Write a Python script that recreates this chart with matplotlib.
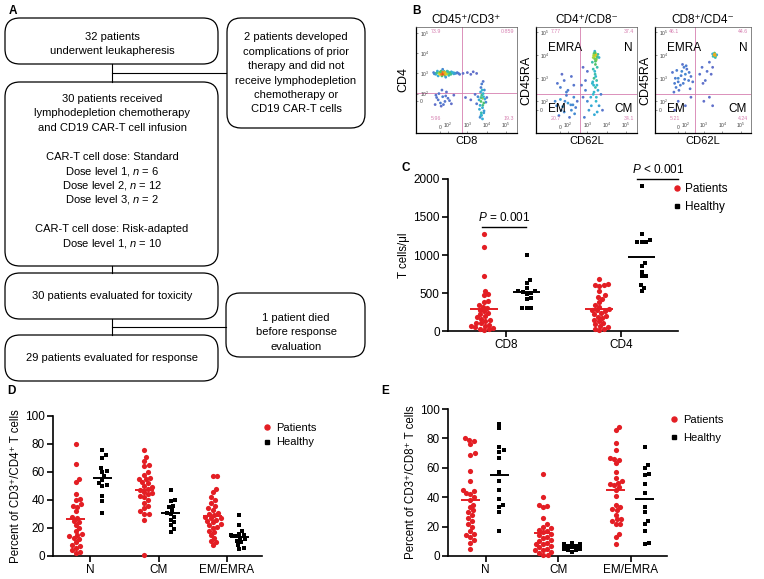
import numpy as np
import matplotlib
matplotlib.use('Agg')
import matplotlib.pyplot as plt
from matplotlib.patches import FancyBboxPatch
from matplotlib.lines import Line2D
from matplotlib.colors import LinearSegmentedColormap
from matplotlib.ticker import NullLocator

plt.rcParams['font.family'] = ['Liberation Sans', 'DejaVu Sans']
plt.rcParams['mathtext.fontset'] = 'custom'
plt.rcParams['mathtext.rm'] = 'Liberation Sans'
plt.rcParams['mathtext.it'] = 'Liberation Sans:italic'

# ---------------- data ----------------
# panel C: T cells per ul
c_groups = ['CD8', 'CD4']
c_patients = [
    [1280, 1100, 730, 530, 490, 470, 400, 380, 340, 320, 300, 280, 260, 240, 220,
     200, 180, 160, 150, 130, 110, 100, 80, 70, 60, 50, 40, 30, 20, 10],
    [680, 620, 610, 600, 590, 520, 470, 450, 420, 380, 340, 320, 290, 280, 270,
     260, 240, 220, 200, 190, 170, 150, 130, 110, 90, 70, 50, 30, 20, 10],
]
c_healthy = [
    [1000, 670, 630, 560, 530, 520, 510, 500, 490, 430, 420, 300, 300, 300],
    [1910, 1280, 1200, 1170, 1170, 1170, 890, 850, 780, 730, 720, 610, 570, 520],
]

# panel D: % of CD3+/CD4+ T cells
subsets = ['N', 'CM', 'EM/EMRA']
d_patients = [
    [80, 66, 55, 53, 44, 41, 40, 37, 36, 35, 32, 28, 27, 25, 24, 22, 20, 18, 16, 15,
     14, 13, 12, 10, 8, 7, 6, 4, 3, 2],
    [76, 71, 68, 65, 64, 60, 58, 56, 55, 55, 53, 52, 50, 49, 48, 47, 46, 45, 44, 43,
     42, 40, 38, 36, 34, 32, 30, 30, 26, 1],
    [57, 57, 48, 46, 42, 40, 38, 36, 34, 33, 31, 30, 29, 28, 27, 27, 26, 25, 24, 23,
     22, 21, 20, 18, 17, 15, 13, 11, 10, 8],
]
d_healthy = [
    [76, 72, 70, 63, 61, 60, 57, 54, 52, 51, 50, 43, 39, 31],
    [47, 40, 39, 36, 35, 33, 31, 30, 28, 26, 24, 22, 19, 17],
    [29, 22, 18, 16, 15, 15, 14, 13, 12, 11, 10, 8, 6, 5],
]

# panel E: % of CD3+/CD8+ T cells
e_patients = [
    [80, 79, 78, 76, 70, 69, 58, 51, 45, 44, 43, 42, 40, 38, 35, 33, 31, 30, 28, 26,
     24, 22, 20, 17, 15, 14, 13, 11, 9, 5],
    [56, 40, 35, 34, 33, 26, 22, 20, 19, 18, 17, 16, 15, 14, 13, 12, 11, 10, 9, 8,
     8, 7, 6, 5, 4, 4, 3, 2, 1, 0.5],
    [88, 86, 77, 72, 67, 66, 65, 63, 57, 53, 51, 50, 49, 48, 47, 45, 41, 35, 33, 32,
     31, 28, 25, 25, 24, 22, 22, 15, 13, 8],
]
e_healthy = [
    [90, 87, 74, 72, 71, 67, 57, 51, 45, 39, 35, 33, 30, 17],
    [9, 8, 8, 7, 7, 6, 6, 6, 5, 5, 5, 4, 4, 3],
    [74, 62, 60, 56, 55, 49, 43, 33, 30, 24, 22, 17, 9, 8],
]

# panel B: flow cytometry events (x, y, relative density)
b1_cd8 = [-60, -20, 0, 20, 40, 60, 80, 100, 130, 160, 200, 250, -40, 10, 50, 90, -30, 20, 60, 110,
          150, 300, -90, 30, 70, 400, 600, 1000, 1500,
          -70, -50, -10, 5, 15, 25, 35, 45, 55, 70, 85, 95, 120, 140, 180, 220, -80, 0, 100, 350,
          -50, 0, 30, 60, 100, -20, 150, 200, 10, 80, -70, -30, 40, 120, 70, -60, 20,
          4000, 5000, 6000, 7000, 5500, 6500, 8000, 4500, 3500, 9000, 6000, 7500, 3000, 2500, 5000,
          10000, 1500, 800, 6500, 5500, 3000, 2000, 5000, 7000, 4500,
          4200, 5200, 6200, 5800, 6800, 4800, 5400, 6000, 7200, 5000]
b1_cd4 = [900, 1100, 1000, 950, 1050, 1000, 1100, 950, 1000, 1050, 950, 1000, 1300, 1300, 1250, 1300, 750, 750, 800, 800,
          1200, 1100, 1100, 1600, 650, 900, 1000, 1100, 900,
          1000, 1050, 900, 1100, 880, 1150, 920, 1000, 1120, 900, 1000, 1050, 1100, 900, 1100, 1050, 950, 1200, 1200, 1000,
          50, -20, 60, 0, 40, 100, -30, 80, -60, 120, -40, 20, -40, 10, 70, 80, 150,
          20, 0, 40, -20, 80, 100, 30, -50, 60, -10, -80, 150, -30, 90, 200,
          50, 20, 50, 400, 300, 1000, 1200, -200, -150, -250,
          -100, -150, -50, 150, 60, 120, -200, -300, -120, 50]
b1_dens = [.35, .6, .9, 1.0, .95, .85, .7, .6, .5, .4, .3, .2, .3, .5, .5, .4, .3, .5, .5, .4,
           .3, .15, .15, .2, .25, .1, .05, .05, .05,
           .3, .45, .7, .85, .9, .9, 1, .95, .8, .75, .7, .6, .5, .45, .35, .25, .2, .5, .4, .12,
           .1, .15, .15, .1, .1, .1, .05, .05, .05, .05, .05, .1, .1, .1, .1, .1, .1,
           .3, .5, .6, .5, .45, .35, .3, .3, .2, .2, .3, .2, .1, .08, .15,
           .1, .05, .05, .1, .15, .05, .05, .3, .25, .2,
           .3, .4, .45, .35, .35, .3, .35, .3, .25, .45]

b2_cd62l = [2000, 2500, 3000, 2200, 2800, 3500, 1800, 2600, 3200, 2400, 4000, 2000,
            2300, 2700, 2900, 2100, 2500, 3300, 2600, 2400,
            2500, 2200, 3000, 1800, 2600, 3500, 2000, 1500, 2800, 4000, 1200, 2300, 3200, 1000, 5000,
            800, 6000, 700, 1600, 2100, 2400, 2700, 1900, 3100, 2200, 2900,
            -50, 0, 50, 100, 150, 200, 250, -20, 80, 300, 120, 30, 10, 60, 140, 220, -70, 180,
            0, 50, 100, -40, 150, 200, 80, 20,
            600, 1000, 800, 500, 600]
b2_cd45ra = [8000, 10000, 9000, 12000, 6000, 11000, 5000, 4000, 3000, 15000, 8000, 2500,
             9000, 11000, 7000, 10000, 13000, 8500, 5500, 7000,
             1500, 1000, 800, 600, 400, 300, 200, 150, 100, 50, 0, -50, -20, 100, 200,
             300, 0, -80, 50, 500, 2000, 1200, 700, 500, 250, 150,
             50, 120, -20, 80, 0, 150, 30, -60, 180, 100, -80, 40, 0, 100, 60, -40, 100, 60,
             400, 800, 300, 600, 1200, 500, 250, 1500,
             3000, 2000, 800, 500, 150]
b2_dens = [.6, .8, .7, .5, .6, .4, .4, .5, .4, .3, .3, .4,
           .7, .75, .55, .6, .5, .45, .5, .55,
           .4, .45, .4, .35, .4, .3, .35, .3, .35, .25, .25, .3, .3, .2, .15,
           .15, .1, .15, .3, .35, .35, .35, .35, .35, .35, .35,
           .2, .25, .2, .25, .2, .2, .15, .15, .15, .1, .1, .25, .2, .2, .2, .2, .2, .2,
           .15, .1, .15, .1, .08, .1, .15, .05,
           .05, .08, .1, .1, .1]

b3_cd62l = [3500, 4000, 4500, 3800, 3200, 4200, 5000, 3000, 3600, 4100, 3900,
            0, 50, -50, 100, 150, 80, -30, 200, 30, 120, -80, 250, 60, 10, 180, -60,
            40, -20, 90, 160, 70, 0, 110, -40,
            800, 1500, 2000, 1200, 2500, 600, 900, 3000,
            0, 100, -50, 200, 1000, 3000, 2000]
b3_cd45ra = [10000, 11000, 9500, 12500, 9000, 8000, 10500, 11500, 10500, 9800, 11200,
             1000, 2000, 600, 1500, 800, 3000, 400, 1200, 500, 2500, 1800, 700, 4000, 300, 350, 250,
             1300, 2200, 900, 1800, 600, 700, 3500, 1000,
             3000, 2000, 5000, 800, 1500, 1500, 600, 3000,
             100, 50, 0, 150, 100, 50, 150]
b3_dens = [.7, .8, .6, .5, .4, .4, .3, .3, .8, .8, .8,
           .2, .2, .15, .2, .15, .15, .15, .1, .15, .1, .1, .1, .08, .1, .1, .1,
           .15, .15, .15, .15, .15, .15, .15, .15,
           .08, .08, .08, .08, .05, .08, .05, .05,
           .08, .08, .05, .05, .05, .05, .05]

# ---------------- figure ----------------
W, H = 764, 579
fig = plt.figure(figsize=(W / 100, H / 100), dpi=100)
red = '#e31e24'
pink = '#d67fb0'


def rect(x0, y0, x1, y1):
    return [x0 / W, 1 - y1 / H, (x1 - x0) / W, (y1 - y0) / H]


# overlay in pixel coordinates for panel A and panel letters
ov = fig.add_axes([0, 0, 1, 1])
ov.set_xlim(0, W)
ov.set_ylim(H, 0)
ov.axis('off')

for lab, x, y in [('A', 9, 11), ('B', 412, 11), ('C', 402, 168), ('D', 7, 391), ('E', 381, 391)]:
    ov.text(x, y, lab, fontsize=8.5, fontweight='bold', ha='left', va='center')


def rbox(x0, y0, x1, y1, r, lines, y_first, cx, step=14.4):
    ov.add_patch(FancyBboxPatch((x0 + r, y0 + r), x1 - x0 - 2 * r, y1 - y0 - 2 * r,
                                boxstyle=f'round,pad={r}', fc='white', ec='black', lw=0.9))
    for i, t in enumerate(lines):
        ov.text(cx, y_first + i * step, t, fontsize=8, ha='center', va='center')


rbox(5, 18, 218, 64, 15, ['32 patients', 'underwent leukapheresis'], 37, 112)
rbox(227, 18, 365, 128, 14, ['2 patients developed', 'complications of prior', 'therapy and did not',
                              'receive lymphodepletion', 'chemotherapy or', 'CD19 CAR-T cells'], 37.3, 296)
rbox(5, 82, 218, 266, 15, ['30 patients received', 'lymphodepletion chemotherapy',
                           'and CD19 CAR-T cell infusion', '', 'CAR-T cell dose: Standard',
                           'Dose level 1, $n$ = 6', 'Dose level 2, $n$ = 12', 'Dose level 3, $n$ = 2', '',
                           'CAR-T cell dose: Risk-adapted', 'Dose level 1, $n$ = 10'], 99, 112)
rbox(5, 273, 218, 319, 15, ['30 patients evaluated for toxicity'], 296, 112)
rbox(226, 293, 365, 357, 14, ['1 patient died', 'before response', 'evaluation'], 318, 296)
rbox(5, 335, 218, 381, 15, ['29 patients evaluated for response'], 358, 112)
for xs, ys in [([112, 112], [64, 82]), ([112, 226], [73, 73]), ([112, 112], [266, 273]),
               ([112, 112], [319, 335]), ([112, 226], [327, 327])]:
    ov.plot(xs, ys, color='black', lw=0.8)

# ---------------- panel B ----------------
flow_cmap = LinearSegmentedColormap.from_list(
    'flow', ['#6a6ac8', '#4a7fd0', '#2fb8d8', '#4cc46a', '#d8e020', '#f0a020', '#e85020'])
tick_vals = [0, 1e2, 1e3, 1e4, 1e5]
tick_labs = ['0', '$10^2$', '$10^3$', '$10^4$', '$10^5$']


def flow(r, xs, ys, ds, xg, yg, ylim, nums, title, xlab, ylab, ylab_x, quads):
    ax = fig.add_axes(rect(*r))
    ax.set_xscale('symlog', linthresh=100, linscale=0.35)
    ax.set_yscale('symlog', linthresh=100, linscale=0.35)
    ax.scatter(xs, ys, c=ds, cmap=flow_cmap, vmin=0, vmax=1, s=4, lw=0, zorder=2)
    ax.axvline(xg, color=pink, lw=0.6, zorder=1)
    ax.axhline(yg, color=pink, lw=0.6, zorder=1)
    ax.set_xlim(-740, 3.6e5)
    ax.set_ylim(*ylim)
    ax.set_xticks(tick_vals)
    ax.set_xticklabels(tick_labs)
    ax.set_yticks(tick_vals)
    ax.set_yticklabels(tick_labs)
    ax.xaxis.set_minor_locator(NullLocator())
    ax.yaxis.set_minor_locator(NullLocator())
    ax.tick_params(labelsize=3.6, length=1.5, width=0.4, colors='#444', direction='in')
    ax.tick_params(axis='y', pad=-3)
    ax.tick_params(axis='x', pad=-2)
    for lab in ax.get_yticklabels():
        lab.set_ha('left')
    for lab in ax.get_xticklabels():
        lab.set_va('bottom')
    for s in ['left', 'bottom']:
        ax.spines[s].set_linewidth(0.9)
    for s in ['top', 'right']:
        ax.spines[s].set_linewidth(0.5)
        ax.spines[s].set_color('#555555')
    ax.set_title(title, fontsize=8.5, pad=3)
    ax.set_xlabel(xlab, fontsize=8, labelpad=2)
    fig.text(ylab_x / W, 1 - 80 / H, ylab, fontsize=9, rotation=90, ha='center', va='center')
    for (tx, ty, ha, va), t in zip([(0.15, 0.985, 'left', 'top'), (0.97, 0.985, 'right', 'top'),
                                    (0.15, 0.11, 'left', 'bottom'), (0.97, 0.11, 'right', 'bottom')], nums):
        ax.text(tx, ty, t, transform=ax.transAxes, fontsize=3.8, color=pink, ha=ha, va=va)
    if quads:
        for (tx, ty, ha), t in zip([(0.12, 0.80, 'left'), (0.96, 0.80, 'right'),
                                    (0.12, 0.23, 'left'), (0.96, 0.23, 'right')], quads):
            ax.text(tx, ty, t, transform=ax.transAxes, fontsize=8.5, ha=ha, va='center')
    return ax


flow((416, 27, 517, 133), b1_cd8, b1_cd4, b1_dens, 550, 110, (-1500, 2e5),
     ['73.9', '0.859', '5.96', '19.3'], 'CD45⁺/CD3⁺', 'CD8', 'CD4', 403, None)
flow((536, 27, 637, 133), b2_cd62l, b2_cd45ra, b2_dens, 400, 200, (-400, 1.7e5),
     ['7.77', '37.4', '20.7', '34.1'], 'CD4⁺/CD8⁻', 'CD62L', 'CD45RA', 526, ['EMRA', 'N', 'EM', 'CM'])
flow((655, 27, 751, 133), b3_cd62l, b3_cd45ra, b3_dens, 340, 200, (-400, 1.7e5),
     ['46.1', '44.6', '5.21', '4.24'], 'CD8⁺/CD4⁻', 'CD62L', 'CD45RA', 645, ['EMRA', 'N', 'EM', 'CM'])


# ---------------- panels C, D, E ----------------
def swarm(vals_px, d, maxw):
    order = np.argsort(vals_px, kind='stable')
    placed = []
    xs = np.zeros(len(vals_px))
    for i in order:
        y = vals_px[i]
        cands = [0.0]
        for px, py in placed:
            dy = abs(py - y)
            if dy < d:
                dx = np.sqrt(d * d - dy * dy)
                cands += [px + dx, px - dx]
        cands.sort(key=lambda c: (abs(c), -c))
        for c in cands:
            if all((c - px) ** 2 + (y - py) ** 2 >= d * d - 1e-6 for px, py in placed):
                xs[i] = c
                break
        placed.append((xs[i], y))
    return np.clip(xs, -maxw, maxw)


def dot_panel(r, pats, heal, ymax, yticks, labels, off_p, off_h, half, xlim, legend_xy, ylabel,
              fs_leg, lspace, maxw_h=(13, 13, 13)):
    ax = fig.add_axes(rect(*r))
    x0, y0, x1, y1 = r
    xpu = (x1 - x0) / (xlim[1] - xlim[0])
    ypu = (y1 - y0) / ymax
    for i, (vp, vh) in enumerate(zip(pats, heal)):
        for vals, dx, mk, col, s, dd, mw in [(vp, off_p, 'o', red, 14, 4.6, 13),
                                             (vh, off_h, 's', 'black', 11, 4.4, maxw_h[i])]:
            v = np.asarray(vals, float)
            sx = swarm(v * ypu, dd, mw) / xpu
            ax.scatter(i + dx + sx, v, marker=mk, s=s, color=col, lw=0, clip_on=False, zorder=3)
            m = v.mean()
            ax.plot([i + dx - half, i + dx + half], [m, m], color=col, lw=1.4, zorder=4,
                    solid_capstyle='butt')
    ax.set_xlim(*xlim)
    ax.set_ylim(0, ymax)
    ax.set_xticks(range(len(labels)))
    ax.set_xticklabels(labels, fontsize=8.5)
    ax.set_yticks(yticks)
    ax.tick_params(axis='y', labelsize=8.5)
    ax.tick_params(length=4, width=1.2, pad=2)
    for s in ['top', 'right']:
        ax.spines[s].set_visible(False)
    for s in ['left', 'bottom']:
        ax.spines[s].set_linewidth(1.2)
    ax.set_ylabel(ylabel, fontsize=8.3, labelpad=2)
    handles = [Line2D([], [], marker='o', ls='', color=red, ms=3.6),
               Line2D([], [], marker='s', ls='', color='black', ms=3.3)]
    ax.legend(handles, ['Patients', 'Healthy'], loc='upper left',
              bbox_to_anchor=(legend_xy[0] / W, 1 - legend_xy[1] / H), bbox_transform=fig.transFigure,
              frameon=False, fontsize=fs_leg, handlelength=0.6, handletextpad=0.45,
              labelspacing=lspace, borderaxespad=0, borderpad=0)
    return ax


axc = dot_panel((448, 179, 678, 331), c_patients, c_healthy, 2000, [0, 500, 1000, 1500, 2000],
                c_groups, -0.19, 0.18, 0.12, (-0.504, 1.496), (673, 183), 'T cells/μl', 8.5, 0.55)
axc.plot([-0.21, 0.17], [1370, 1370], color='black', lw=1.0, clip_on=False)
axc.text(-0.02, 1410, '$P$ = 0.001', fontsize=8.5, ha='center', va='bottom')
axc.plot([1.14, 1.5], [2000, 2000], color='black', lw=1.0, clip_on=False)
axc.text(1.32, 2035, '$P$ < 0.001', fontsize=8.5, ha='center', va='bottom')

dot_panel((53, 416, 262, 556), d_patients, d_healthy, 100, [0, 20, 40, 60, 80, 100],
          subsets, -0.21, 0.18, 0.14, (-0.54, 2.51), (264, 423), 'Percent of CD3⁺/CD4⁺ T cells', 8, 0.4)
dot_panel((448, 409, 667, 556), e_patients, e_healthy, 100, [0, 20, 40, 60, 80, 100],
          subsets, -0.21, 0.19, 0.125, (-0.52, 2.5), (671, 415), 'Percent of CD3⁺/CD8⁺ T cells', 8, 0.7,
          maxw_h=(13, 8, 13))

fig.savefig('out.png', dpi=100)
